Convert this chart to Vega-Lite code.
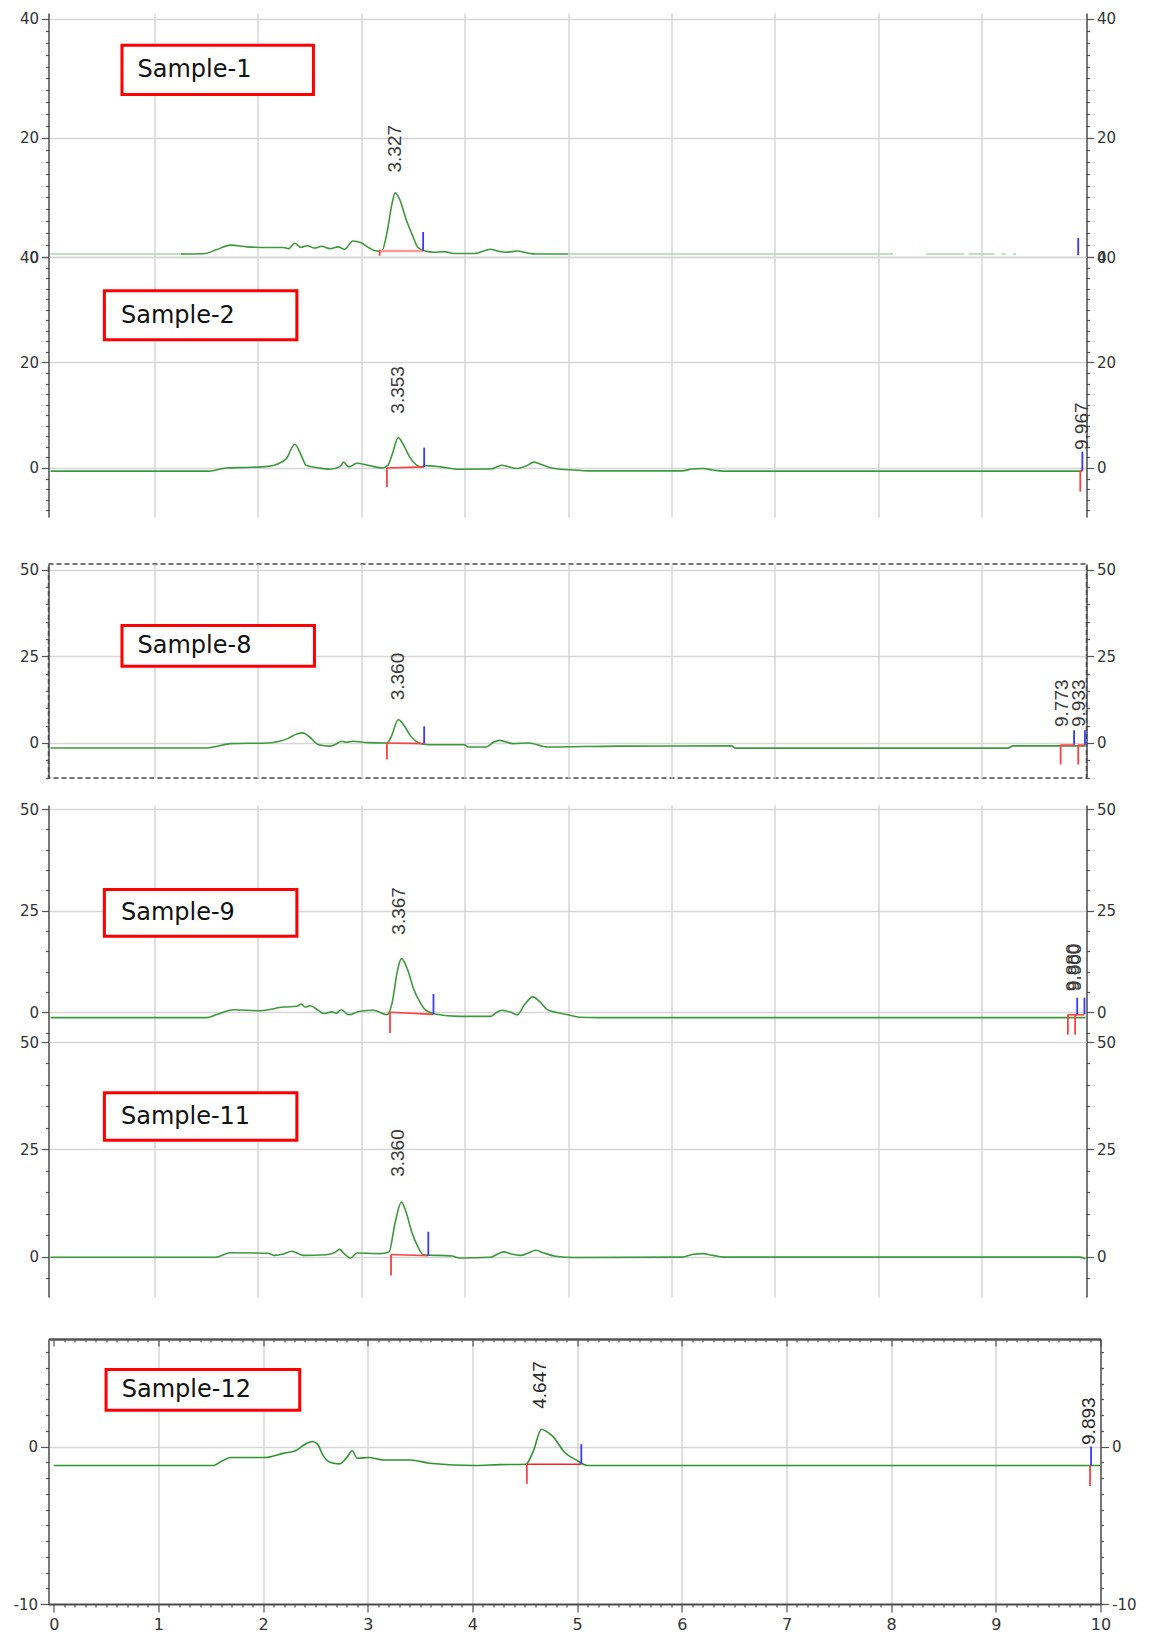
{
"$schema": "https://vega.github.io/schema/vega-lite/v6.json",
"background": "white",
"padding": {"left": 12.5, "top": 11, "right": 5, "bottom": 5},
"spacing": 0,
"bounds": "flush",
"config": {
  "view": {"stroke": null},
  "axis": {"gridColor": "#d6d6d6", "gridWidth": 1.5, "domainColor": "#4a4a4a", "domainWidth": 1.5, "tickColor": "#555555", "tickWidth": 1.2, "labelColor": "#333333", "labelFont": "DejaVu Sans", "labelFontSize": 15, "labelPadding": 3, "labelFlush": false}
},
"datasets": {
  "f1": [{"x":0,"y":0.5,"seg":"a"},{"x":1.3,"y":0.5,"seg":"a"},{"x":5.0,"y":0.5,"seg":"b"},{"x":8.14,"y":0.5,"seg":"b"},{"x":8.46,"y":0.5,"seg":"c"},{"x":8.83,"y":0.5,"seg":"c"},{"x":8.87,"y":0.5,"seg":"d"},{"x":9.12,"y":0.5,"seg":"d"},{"x":9.19,"y":0.5,"seg":"e"},{"x":9.23,"y":0.5,"seg":"e"},{"x":9.3,"y":0.5,"seg":"f"},{"x":9.33,"y":0.5,"seg":"f"}],
  "t1": [{"x":1.26,"y":0.5},{"x":1.48,"y":0.55},{"x":1.6,"y":1.2},{"x":1.74,"y":2.0},{"x":1.9,"y":1.7},{"x":2.1,"y":1.6},{"x":2.25,"y":1.6},{"x":2.3,"y":1.4},{"x":2.36,"y":2.3},{"x":2.42,"y":1.6},{"x":2.48,"y":1.9},{"x":2.55,"y":1.5},{"x":2.62,"y":1.8},{"x":2.7,"y":1.4},{"x":2.78,"y":1.7},{"x":2.84,"y":1.3},{"x":2.92,"y":2.7},{"x":3.0,"y":2.4},{"x":3.08,"y":1.5},{"x":3.15,"y":1.0},{"x":3.2,"y":1.0},{"x":3.25,"y":4.0},{"x":3.3,"y":9.0},{"x":3.33,"y":10.8},{"x":3.37,"y":9.8},{"x":3.44,"y":6.1},{"x":3.5,"y":3.5},{"x":3.55,"y":1.6},{"x":3.62,"y":1.0},{"x":3.7,"y":0.8},{"x":3.8,"y":0.9},{"x":3.9,"y":0.6},{"x":4.1,"y":0.6},{"x":4.2,"y":1.1},{"x":4.25,"y":1.3},{"x":4.32,"y":1.0},{"x":4.4,"y":0.8},{"x":4.51,"y":1.0},{"x":4.6,"y":0.7},{"x":4.69,"y":0.5},{"x":5.0,"y":0.5}],
  "k1": [{"x":3.18,"y":0.2,"y2":1.2,"kind":"s"},{"x":3.6,"y":1.0,"y2":4.2,"kind":"e"},{"x":9.93,"y":0.3,"y2":3.2,"kind":"e"}],
  "b1": [{"x":3.18,"x2":3.6,"y":1.0,"y2":1.0}],
  "l1": [{"x":3.327,"y":14.2,"text":"3.327"}],
  "s1": [{"x":0.69,"x2":2.54,"y":35.6,"y2":27.3,"tx":0.84,"ty":31.5,"name":"Sample-1"}],
  "t2": [{"x":0,"y":-0.6},{"x":1.53,"y":-0.6},{"x":1.7,"y":0.0},{"x":1.9,"y":0.1},{"x":2.1,"y":0.3},{"x":2.2,"y":0.8},{"x":2.28,"y":1.8},{"x":2.36,"y":4.5},{"x":2.42,"y":2.5},{"x":2.47,"y":0.5},{"x":2.59,"y":0.0},{"x":2.7,"y":-0.25},{"x":2.8,"y":0.3},{"x":2.83,"y":1.1},{"x":2.88,"y":0.2},{"x":2.96,"y":0.9},{"x":3.07,"y":0.5},{"x":3.21,"y":0.0},{"x":3.26,"y":0.5},{"x":3.3,"y":2.5},{"x":3.36,"y":5.75},{"x":3.42,"y":4.0},{"x":3.47,"y":2.1},{"x":3.58,"y":0.2},{"x":3.62,"y":0.45},{"x":3.77,"y":0.2},{"x":3.95,"y":-0.25},{"x":4.25,"y":-0.2},{"x":4.36,"y":0.5},{"x":4.51,"y":-0.1},{"x":4.6,"y":0.4},{"x":4.67,"y":1.1},{"x":4.75,"y":0.6},{"x":4.84,"y":0.0},{"x":5.06,"y":-0.4},{"x":5.2,"y":-0.55},{"x":6.1,"y":-0.55},{"x":6.2,"y":-0.2},{"x":6.3,"y":-0.1},{"x":6.4,"y":-0.4},{"x":6.5,"y":-0.6},{"x":9.97,"y":-0.6}],
  "k2": [{"x":3.25,"y":0,"y2":-3.6,"kind":"s"},{"x":3.61,"y":0.2,"y2":3.85,"kind":"e"},{"x":9.95,"y":-0.5,"y2":-4.5,"kind":"s"},{"x":9.97,"y":-0.5,"y2":3.1,"kind":"e"}],
  "b2": [{"x":3.25,"x2":3.61,"y":0,"y2":0.2},{"x":9.95,"x2":9.97,"y":-0.5,"y2":-0.5}],
  "l2": [{"x":3.353,"y":10.3,"text":"3.353"},{"x":9.967,"y":3.4,"text":"9.967"}],
  "s2": [{"x":0.52,"x2":2.38,"y":33.6,"y2":24.3,"tx":0.68,"ty":28.9,"name":"Sample-2"}],
  "t3": [{"x":0,"y":-1.45},{"x":1.51,"y":-1.45},{"x":1.6,"y":-1.0},{"x":1.74,"y":-0.2},{"x":2.1,"y":0.0},{"x":2.2,"y":0.4},{"x":2.29,"y":1.25},{"x":2.38,"y":2.6},{"x":2.44,"y":2.9},{"x":2.5,"y":1.8},{"x":2.59,"y":-0.5},{"x":2.7,"y":-0.9},{"x":2.76,"y":-0.3},{"x":2.81,"y":0.5},{"x":2.86,"y":0.2},{"x":2.92,"y":0.5},{"x":3.07,"y":0.1},{"x":3.25,"y":0.0},{"x":3.29,"y":1.7},{"x":3.36,"y":6.7},{"x":3.42,"y":4.9},{"x":3.47,"y":2.4},{"x":3.58,"y":-0.2},{"x":3.66,"y":-0.5},{"x":4.0,"y":-0.5},{"x":4.03,"y":-1.15},{"x":4.21,"y":-1.15},{"x":4.28,"y":0.2},{"x":4.34,"y":0.75},{"x":4.47,"y":-0.2},{"x":4.62,"y":0.0},{"x":4.8,"y":-1.15},{"x":5.5,"y":-0.9},{"x":6.58,"y":-0.85},{"x":6.62,"y":-1.5},{"x":9.25,"y":-1.5},{"x":9.3,"y":-0.85},{"x":10.0,"y":-0.85}],
  "k3": [{"x":3.25,"y":0,"y2":-4.7,"kind":"s"},{"x":3.61,"y":-0.2,"y2":4.8,"kind":"e"},{"x":9.76,"y":-0.5,"y2":-6.2,"kind":"s"},{"x":9.89,"y":-0.5,"y2":3.7,"kind":"e"},{"x":9.93,"y":-0.5,"y2":-6.2,"kind":"s"},{"x":9.995,"y":-0.5,"y2":3.7,"kind":"e"}],
  "b3": [{"x":3.25,"x2":3.61,"y":0,"y2":-0.2},{"x":9.76,"x2":9.89,"y":-0.6,"y2":-0.6},{"x":9.93,"x2":9.995,"y":-0.6,"y2":-0.6}],
  "l3": [{"x":3.36,"y":12.3,"text":"3.360"},{"x":9.773,"y":4.6,"text":"9.773"},{"x":9.933,"y":4.6,"text":"9.933"}],
  "s3": [{"x":0.69,"x2":2.55,"y":33.9,"y2":22.1,"tx":0.84,"ty":28.0,"name":"Sample-8"}],
  "t4": [{"x":0,"y":-1.3},{"x":1.51,"y":-1.3},{"x":1.6,"y":-0.6},{"x":1.77,"y":0.65},{"x":2.03,"y":0.4},{"x":2.25,"y":1.3},{"x":2.38,"y":1.5},{"x":2.42,"y":2.05},{"x":2.46,"y":1.3},{"x":2.51,"y":1.6},{"x":2.58,"y":0.6},{"x":2.64,"y":-0.3},{"x":2.72,"y":0.1},{"x":2.76,"y":-0.2},{"x":2.81,"y":0.65},{"x":2.88,"y":-0.6},{"x":2.99,"y":0.25},{"x":3.12,"y":0.5},{"x":3.25,"y":-0.6},{"x":3.3,"y":2.3},{"x":3.35,"y":10.0},{"x":3.39,"y":13.2},{"x":3.45,"y":10.5},{"x":3.51,"y":5.6},{"x":3.57,"y":2.5},{"x":3.62,"y":0.65},{"x":3.71,"y":-0.4},{"x":3.95,"y":-1.0},{"x":4.25,"y":-1.0},{"x":4.3,"y":-0.2},{"x":4.36,"y":0.5},{"x":4.45,"y":0.0},{"x":4.51,"y":-0.6},{"x":4.58,"y":1.9},{"x":4.66,"y":3.8},{"x":4.72,"y":2.8},{"x":4.8,"y":0.65},{"x":4.9,"y":-0.1},{"x":5.0,"y":-0.6},{"x":5.11,"y":-1.2},{"x":5.3,"y":-1.3},{"x":10.0,"y":-1.3}],
  "k4": [{"x":3.28,"y":0,"y2":-5.1,"kind":"s"},{"x":3.7,"y":-0.4,"y2":4.5,"kind":"e"},{"x":9.83,"y":-0.5,"y2":-5.5,"kind":"s"},{"x":9.92,"y":-0.5,"y2":3.6,"kind":"e"},{"x":9.9,"y":-0.5,"y2":-5.5,"kind":"s"},{"x":9.99,"y":-0.5,"y2":3.6,"kind":"e"}],
  "b4": [{"x":3.28,"x2":3.7,"y":0,"y2":-0.5},{"x":9.83,"x2":9.92,"y":-0.6,"y2":-0.6},{"x":9.9,"x2":9.99,"y":-0.6,"y2":-0.6}],
  "l4": [{"x":3.367,"y":19.1,"text":"3.367"},{"x":9.88,"y":5.2,"text":"9.880"},{"x":9.9,"y":5.2,"text":"9.900"}],
  "s4": [{"x":0.52,"x2":2.38,"y":30.2,"y2":18.7,"tx":0.68,"ty":24.4,"name":"Sample-9"}],
  "t5": [{"x":0,"y":-0.15},{"x":1.59,"y":-0.15},{"x":1.74,"y":0.9},{"x":2.1,"y":0.8},{"x":2.16,"y":0.3},{"x":2.25,"y":0.6},{"x":2.33,"y":1.25},{"x":2.44,"y":0.3},{"x":2.66,"y":0.45},{"x":2.75,"y":1.0},{"x":2.79,"y":1.7},{"x":2.85,"y":0.4},{"x":2.9,"y":-0.3},{"x":2.96,"y":0.85},{"x":3.18,"y":0.7},{"x":3.27,"y":1.1},{"x":3.33,"y":8.0},{"x":3.39,"y":12.7},{"x":3.44,"y":10.0},{"x":3.49,"y":5.75},{"x":3.55,"y":2.3},{"x":3.6,"y":0.45},{"x":3.88,"y":0.15},{"x":3.95,"y":-0.3},{"x":4.25,"y":-0.15},{"x":4.32,"y":0.6},{"x":4.38,"y":1.1},{"x":4.45,"y":0.6},{"x":4.55,"y":0.3},{"x":4.62,"y":0.9},{"x":4.69,"y":1.5},{"x":4.76,"y":0.9},{"x":4.88,"y":0.1},{"x":5.06,"y":-0.2},{"x":6.1,"y":-0.1},{"x":6.2,"y":0.5},{"x":6.3,"y":0.7},{"x":6.4,"y":0.3},{"x":6.5,"y":-0.1},{"x":9.95,"y":-0.1},{"x":10.0,"y":-0.5}],
  "k5": [{"x":3.29,"y":0.5,"y2":-4.4,"kind":"s"},{"x":3.65,"y":0.2,"y2":5.8,"kind":"e"}],
  "b5": [{"x":3.29,"x2":3.65,"y":0.5,"y2":0.2}],
  "l5": [{"x":3.36,"y":18.6,"text":"3.360"}],
  "s5": [{"x":0.52,"x2":2.38,"y":38.2,"y2":27.1,"tx":0.68,"ty":32.6,"name":"Sample-11"}],
  "t6": [{"x":0,"y":-1.2},{"x":1.53,"y":-1.2},{"x":1.6,"y":-0.95},{"x":1.69,"y":-0.7},{"x":2.02,"y":-0.7},{"x":2.2,"y":-0.42},{"x":2.31,"y":-0.27},{"x":2.39,"y":0.1},{"x":2.47,"y":0.32},{"x":2.52,"y":0.15},{"x":2.57,"y":-0.53},{"x":2.64,"y":-1.0},{"x":2.73,"y":-1.1},{"x":2.81,"y":-0.6},{"x":2.85,"y":-0.27},{"x":2.9,"y":-0.74},{"x":3.01,"y":-0.7},{"x":3.15,"y":-0.85},{"x":3.41,"y":-0.85},{"x":3.59,"y":-1.06},{"x":4.03,"y":-1.2},{"x":4.25,"y":-1.15},{"x":4.51,"y":-1.12},{"x":4.58,"y":-0.32},{"x":4.66,"y":1.1},{"x":4.72,"y":0.9},{"x":4.77,"y":0.63},{"x":4.88,"y":-0.36},{"x":4.99,"y":-0.85},{"x":5.1,"y":-1.2},{"x":10.0,"y":-1.2}],
  "k6": [{"x":4.52,"y":-1.12,"y2":-2.37,"kind":"s"},{"x":5.04,"y":-1.12,"y2":0.15,"kind":"e"},{"x":9.9,"y":-1.2,"y2":-2.5,"kind":"s"},{"x":9.91,"y":-1.2,"y2":0.0,"kind":"e"}],
  "b6": [{"x":4.52,"x2":5.04,"y":-1.12,"y2":-1.12}],
  "l6": [{"x":4.647,"y":2.4,"text":"4.647"},{"x":9.893,"y":0.1,"text":"9.893"}],
  "s6": [{"x":0.5,"x2":2.35,"y":4.9,"y2":2.3,"tx":0.65,"ty":3.6,"name":"Sample-12"}]
},
"vconcat": [
{
  "width": 1038, "height": 244,
  "resolve": {"axis": {"x": "independent", "y": "independent"}},
  "layer": [
    {"data": {"name": "f1"}, "mark": {"type": "line", "color": "#a9d8a9", "strokeWidth": 1.5},
     "encoding": {
       "x": {"field": "x", "type": "quantitative", "scale": {"domain": [-0.02, 10.01], "nice": false, "zero": false}, "axis": {"title": null, "values": [1,2,3,4,5,6,7,8,9], "grid": true, "labels": false, "ticks": false, "domain": false}},
       "y": {"field": "y", "type": "quantitative", "scale": {"domain": [0, 41], "nice": false, "zero": false}, "axis": {"orient": "left", "title": null, "grid": true, "values": [0,2,4,6,8,10,12,14,16,18,20,22,24,26,28,30,32,34,36,38,40], "labelExpr": "datum.value % 20 === 0 ? datum.label : ''", "tickSize": {"condition": {"test": "datum.value % 20 === 0", "value": 7}, "value": 3}, "gridOpacity": {"condition": {"test": "datum.value % 20 === 0", "value": 1}, "value": 0}}},
       "detail": {"field": "seg", "type": "nominal"}}},
    {"data": {"name": "t1"}, "mark": {"type": "line", "color": "#3c9a3c", "strokeWidth": 1.6, "interpolate": "monotone"},
     "encoding": {
       "x": {"field": "x", "type": "quantitative", "scale": {"domain": [-0.02, 10.01], "nice": false, "zero": false}, "axis": null},
       "y": {"field": "y", "type": "quantitative", "scale": {"domain": [0, 41], "nice": false, "zero": false}, "axis": null}}},
    {"data": {"name": "b1"}, "mark": {"type": "rule", "color": "#ff9a9a", "strokeWidth": 2.5},
     "encoding": {
       "x": {"field": "x", "type": "quantitative", "scale": {"domain": [-0.02, 10.01], "nice": false, "zero": false}, "axis": null},
       "x2": {"field": "x2"},
       "y": {"field": "y", "type": "quantitative", "scale": {"domain": [0, 41], "nice": false, "zero": false}, "axis": null},
       "y2": {"field": "y2"}}},
    {"data": {"name": "k1"}, "mark": {"type": "rule", "strokeWidth": 1.8},
     "encoding": {
       "x": {"field": "x", "type": "quantitative", "scale": {"domain": [-0.02, 10.01], "nice": false, "zero": false}, "axis": null},
       "y": {"field": "y", "type": "quantitative", "scale": {"domain": [0, 41], "nice": false, "zero": false}, "axis": {"orient": "right", "title": null, "grid": false, "values": [0,2,4,6,8,10,12,14,16,18,20,22,24,26,28,30,32,34,36,38,40], "labelExpr": "datum.value % 20 === 0 ? datum.label : ''", "tickSize": {"condition": {"test": "datum.value % 20 === 0", "value": 7}, "value": 3}}},
       "y2": {"field": "y2"},
       "color": {"field": "kind", "type": "nominal", "scale": {"domain": ["s", "e"], "range": ["#ff4040", "#3838ff"]}, "legend": null}}},
    {"data": {"name": "l1"}, "mark": {"type": "text", "angle": 270, "align": "left", "baseline": "middle", "font": "Liberation Sans", "fontSize": 19, "color": "#3a3a3a"},
     "encoding": {
       "x": {"field": "x", "type": "quantitative", "scale": {"domain": [-0.02, 10.01], "nice": false, "zero": false}, "axis": null},
       "y": {"field": "y", "type": "quantitative", "scale": {"domain": [0, 41], "nice": false, "zero": false}, "axis": null},
       "text": {"field": "text"}}},
    {"data": {"name": "s1"}, "mark": {"type": "rect", "fill": "white", "stroke": "#ff0000", "strokeWidth": 3},
     "encoding": {
       "x": {"field": "x", "type": "quantitative", "scale": {"domain": [-0.02, 10.01], "nice": false, "zero": false}, "axis": null},
       "x2": {"field": "x2"},
       "y": {"field": "y", "type": "quantitative", "scale": {"domain": [0, 41], "nice": false, "zero": false}, "axis": null},
       "y2": {"field": "y2"}}},
    {"data": {"name": "s1"}, "mark": {"type": "text", "align": "left", "baseline": "middle", "font": "DejaVu Sans", "fontSize": 24, "color": "#111111"},
     "encoding": {
       "x": {"field": "tx", "type": "quantitative", "scale": {"domain": [-0.02, 10.01], "nice": false, "zero": false}, "axis": null},
       "y": {"field": "ty", "type": "quantitative", "scale": {"domain": [0, 41], "nice": false, "zero": false}, "axis": null},
       "text": {"field": "name"}}}
  ]
},
{
  "width": 1038, "height": 260,
  "resolve": {"axis": {"x": "independent", "y": "independent"}},
  "layer": [
    {"data": {"name": "t2"}, "mark": {"type": "line", "color": "#3c9a3c", "strokeWidth": 1.6, "interpolate": "monotone"},
     "encoding": {
       "x": {"field": "x", "type": "quantitative", "scale": {"domain": [-0.02, 10.01], "nice": false, "zero": false}, "axis": {"title": null, "values": [1,2,3,4,5,6,7,8,9], "grid": true, "labels": false, "ticks": false, "domain": false}},
       "y": {"field": "y", "type": "quantitative", "scale": {"domain": [-9.3, 40], "nice": false, "zero": false}, "axis": {"orient": "left", "title": null, "grid": true, "values": [-8,-6,-4,-2,0,2,4,6,8,10,12,14,16,18,20,22,24,26,28,30,32,34,36,38,40], "labelExpr": "datum.value % 20 === 0 ? datum.label : ''", "tickSize": {"condition": {"test": "datum.value % 20 === 0", "value": 7}, "value": 3}, "gridOpacity": {"condition": {"test": "datum.value % 20 === 0", "value": 1}, "value": 0}}}}},
    {"data": {"name": "b2"}, "mark": {"type": "rule", "color": "#ff4040", "strokeWidth": 1.6},
     "encoding": {
       "x": {"field": "x", "type": "quantitative", "scale": {"domain": [-0.02, 10.01], "nice": false, "zero": false}, "axis": null},
       "x2": {"field": "x2"},
       "y": {"field": "y", "type": "quantitative", "scale": {"domain": [-9.3, 40], "nice": false, "zero": false}, "axis": null},
       "y2": {"field": "y2"}}},
    {"data": {"name": "k2"}, "mark": {"type": "rule", "strokeWidth": 1.8},
     "encoding": {
       "x": {"field": "x", "type": "quantitative", "scale": {"domain": [-0.02, 10.01], "nice": false, "zero": false}, "axis": null},
       "y": {"field": "y", "type": "quantitative", "scale": {"domain": [-9.3, 40], "nice": false, "zero": false}, "axis": {"orient": "right", "title": null, "grid": false, "values": [-8,-6,-4,-2,0,2,4,6,8,10,12,14,16,18,20,22,24,26,28,30,32,34,36,38,40], "labelExpr": "datum.value % 20 === 0 ? datum.label : ''", "tickSize": {"condition": {"test": "datum.value % 20 === 0", "value": 7}, "value": 3}}},
       "y2": {"field": "y2"},
       "color": {"field": "kind", "type": "nominal", "scale": {"domain": ["s", "e"], "range": ["#ff4040", "#3838ff"]}, "legend": null}}},
    {"data": {"name": "l2"}, "mark": {"type": "text", "angle": 270, "align": "left", "baseline": "middle", "font": "Liberation Sans", "fontSize": 19, "color": "#3a3a3a"},
     "encoding": {
       "x": {"field": "x", "type": "quantitative", "scale": {"domain": [-0.02, 10.01], "nice": false, "zero": false}, "axis": null},
       "y": {"field": "y", "type": "quantitative", "scale": {"domain": [-9.3, 40], "nice": false, "zero": false}, "axis": null},
       "text": {"field": "text"}}},
    {"data": {"name": "s2"}, "mark": {"type": "rect", "fill": "white", "stroke": "#ff0000", "strokeWidth": 3},
     "encoding": {
       "x": {"field": "x", "type": "quantitative", "scale": {"domain": [-0.02, 10.01], "nice": false, "zero": false}, "axis": null},
       "x2": {"field": "x2"},
       "y": {"field": "y", "type": "quantitative", "scale": {"domain": [-9.3, 40], "nice": false, "zero": false}, "axis": null},
       "y2": {"field": "y2"}}},
    {"data": {"name": "s2"}, "mark": {"type": "text", "align": "left", "baseline": "middle", "font": "DejaVu Sans", "fontSize": 24, "color": "#111111"},
     "encoding": {
       "x": {"field": "tx", "type": "quantitative", "scale": {"domain": [-0.02, 10.01], "nice": false, "zero": false}, "axis": null},
       "y": {"field": "ty", "type": "quantitative", "scale": {"domain": [-9.3, 40], "nice": false, "zero": false}, "axis": null},
       "text": {"field": "name"}}}
  ]
},
{"width": 1038, "height": 47, "data": {"values": []}, "mark": {"type": "point", "opacity": 0}},
{
  "width": 1038, "height": 214,
  "view": {"stroke": "#444444", "strokeDash": [5, 3], "strokeWidth": 1.5},
  "resolve": {"axis": {"x": "independent", "y": "independent"}},
  "layer": [
    {"data": {"name": "t3"}, "mark": {"type": "line", "color": "#3c9a3c", "strokeWidth": 1.6, "interpolate": "monotone"},
     "encoding": {
       "x": {"field": "x", "type": "quantitative", "scale": {"domain": [-0.02, 10.01], "nice": false, "zero": false}, "axis": {"title": null, "values": [1,2,3,4,5,6,7,8,9], "grid": true, "labels": false, "ticks": false, "domain": false}},
       "y": {"field": "y", "type": "quantitative", "scale": {"domain": [-10.1, 51.6], "nice": false, "zero": false}, "axis": {"orient": "left", "title": null, "grid": true, "values": [-10,-5,0,5,10,15,20,25,30,35,40,45,50], "labelExpr": "datum.value % 25 === 0 ? datum.label : ''", "tickSize": {"condition": {"test": "datum.value % 25 === 0", "value": 7}, "value": 3}, "gridOpacity": {"condition": {"test": "datum.value % 25 === 0", "value": 1}, "value": 0}}}}},
    {"data": {"name": "b3"}, "mark": {"type": "rule", "color": "#ff4040", "strokeWidth": 1.6},
     "encoding": {
       "x": {"field": "x", "type": "quantitative", "scale": {"domain": [-0.02, 10.01], "nice": false, "zero": false}, "axis": null},
       "x2": {"field": "x2"},
       "y": {"field": "y", "type": "quantitative", "scale": {"domain": [-10.1, 51.6], "nice": false, "zero": false}, "axis": null},
       "y2": {"field": "y2"}}},
    {"data": {"name": "k3"}, "mark": {"type": "rule", "strokeWidth": 1.8},
     "encoding": {
       "x": {"field": "x", "type": "quantitative", "scale": {"domain": [-0.02, 10.01], "nice": false, "zero": false}, "axis": null},
       "y": {"field": "y", "type": "quantitative", "scale": {"domain": [-10.1, 51.6], "nice": false, "zero": false}, "axis": {"orient": "right", "title": null, "grid": false, "values": [-10,-5,0,5,10,15,20,25,30,35,40,45,50], "labelExpr": "datum.value % 25 === 0 ? datum.label : ''", "tickSize": {"condition": {"test": "datum.value % 25 === 0", "value": 7}, "value": 3}}},
       "y2": {"field": "y2"},
       "color": {"field": "kind", "type": "nominal", "scale": {"domain": ["s", "e"], "range": ["#ff4040", "#3838ff"]}, "legend": null}}},
    {"data": {"name": "l3"}, "mark": {"type": "text", "angle": 270, "align": "left", "baseline": "middle", "font": "Liberation Sans", "fontSize": 19, "color": "#3a3a3a"},
     "encoding": {
       "x": {"field": "x", "type": "quantitative", "scale": {"domain": [-0.02, 10.01], "nice": false, "zero": false}, "axis": null},
       "y": {"field": "y", "type": "quantitative", "scale": {"domain": [-10.1, 51.6], "nice": false, "zero": false}, "axis": null},
       "text": {"field": "text"}}},
    {"data": {"name": "s3"}, "mark": {"type": "rect", "fill": "white", "stroke": "#ff0000", "strokeWidth": 3},
     "encoding": {
       "x": {"field": "x", "type": "quantitative", "scale": {"domain": [-0.02, 10.01], "nice": false, "zero": false}, "axis": null},
       "x2": {"field": "x2"},
       "y": {"field": "y", "type": "quantitative", "scale": {"domain": [-10.1, 51.6], "nice": false, "zero": false}, "axis": null},
       "y2": {"field": "y2"}}},
    {"data": {"name": "s3"}, "mark": {"type": "text", "align": "left", "baseline": "middle", "font": "DejaVu Sans", "fontSize": 24, "color": "#111111"},
     "encoding": {
       "x": {"field": "tx", "type": "quantitative", "scale": {"domain": [-0.02, 10.01], "nice": false, "zero": false}, "axis": null},
       "y": {"field": "ty", "type": "quantitative", "scale": {"domain": [-10.1, 51.6], "nice": false, "zero": false}, "axis": null},
       "text": {"field": "name"}}}
  ]
},
{"width": 1038, "height": 27, "data": {"values": []}, "mark": {"type": "point", "opacity": 0}},
{
  "width": 1038, "height": 237,
  "resolve": {"axis": {"x": "independent", "y": "independent"}},
  "layer": [
    {"data": {"name": "t4"}, "mark": {"type": "line", "color": "#3c9a3c", "strokeWidth": 1.6, "interpolate": "monotone"},
     "encoding": {
       "x": {"field": "x", "type": "quantitative", "scale": {"domain": [-0.02, 10.01], "nice": false, "zero": false}, "axis": {"title": null, "values": [1,2,3,4,5,6,7,8,9], "grid": true, "labels": false, "ticks": false, "domain": false}},
       "y": {"field": "y", "type": "quantitative", "scale": {"domain": [-7.3, 51], "nice": false, "zero": false}, "axis": {"orient": "left", "title": null, "grid": true, "values": [-5,0,5,10,15,20,25,30,35,40,45,50], "labelExpr": "datum.value % 25 === 0 ? datum.label : ''", "tickSize": {"condition": {"test": "datum.value % 25 === 0", "value": 7}, "value": 3}, "gridOpacity": {"condition": {"test": "datum.value % 25 === 0", "value": 1}, "value": 0}}}}},
    {"data": {"name": "b4"}, "mark": {"type": "rule", "color": "#ff4040", "strokeWidth": 1.6},
     "encoding": {
       "x": {"field": "x", "type": "quantitative", "scale": {"domain": [-0.02, 10.01], "nice": false, "zero": false}, "axis": null},
       "x2": {"field": "x2"},
       "y": {"field": "y", "type": "quantitative", "scale": {"domain": [-7.3, 51], "nice": false, "zero": false}, "axis": null},
       "y2": {"field": "y2"}}},
    {"data": {"name": "k4"}, "mark": {"type": "rule", "strokeWidth": 1.8},
     "encoding": {
       "x": {"field": "x", "type": "quantitative", "scale": {"domain": [-0.02, 10.01], "nice": false, "zero": false}, "axis": null},
       "y": {"field": "y", "type": "quantitative", "scale": {"domain": [-7.3, 51], "nice": false, "zero": false}, "axis": {"orient": "right", "title": null, "grid": false, "values": [-5,0,5,10,15,20,25,30,35,40,45,50], "labelExpr": "datum.value % 25 === 0 ? datum.label : ''", "tickSize": {"condition": {"test": "datum.value % 25 === 0", "value": 7}, "value": 3}}},
       "y2": {"field": "y2"},
       "color": {"field": "kind", "type": "nominal", "scale": {"domain": ["s", "e"], "range": ["#ff4040", "#3838ff"]}, "legend": null}}},
    {"data": {"name": "l4"}, "mark": {"type": "text", "angle": 270, "align": "left", "baseline": "middle", "font": "Liberation Sans", "fontSize": 19, "color": "#3a3a3a"},
     "encoding": {
       "x": {"field": "x", "type": "quantitative", "scale": {"domain": [-0.02, 10.01], "nice": false, "zero": false}, "axis": null},
       "y": {"field": "y", "type": "quantitative", "scale": {"domain": [-7.3, 51], "nice": false, "zero": false}, "axis": null},
       "text": {"field": "text"}}},
    {"data": {"name": "s4"}, "mark": {"type": "rect", "fill": "white", "stroke": "#ff0000", "strokeWidth": 3},
     "encoding": {
       "x": {"field": "x", "type": "quantitative", "scale": {"domain": [-0.02, 10.01], "nice": false, "zero": false}, "axis": null},
       "x2": {"field": "x2"},
       "y": {"field": "y", "type": "quantitative", "scale": {"domain": [-7.3, 51], "nice": false, "zero": false}, "axis": null},
       "y2": {"field": "y2"}}},
    {"data": {"name": "s4"}, "mark": {"type": "text", "align": "left", "baseline": "middle", "font": "DejaVu Sans", "fontSize": 24, "color": "#111111"},
     "encoding": {
       "x": {"field": "tx", "type": "quantitative", "scale": {"domain": [-0.02, 10.01], "nice": false, "zero": false}, "axis": null},
       "y": {"field": "ty", "type": "quantitative", "scale": {"domain": [-7.3, 51], "nice": false, "zero": false}, "axis": null},
       "text": {"field": "name"}}}
  ]
},
{
  "width": 1038, "height": 255,
  "resolve": {"axis": {"x": "independent", "y": "independent"}},
  "layer": [
    {"data": {"name": "t5"}, "mark": {"type": "line", "color": "#3c9a3c", "strokeWidth": 1.6, "interpolate": "monotone"},
     "encoding": {
       "x": {"field": "x", "type": "quantitative", "scale": {"domain": [-0.02, 10.01], "nice": false, "zero": false}, "axis": {"title": null, "values": [1,2,3,4,5,6,7,8,9], "grid": true, "labels": false, "ticks": false, "domain": false}},
       "y": {"field": "y", "type": "quantitative", "scale": {"domain": [-9.4, 50], "nice": false, "zero": false}, "axis": {"orient": "left", "title": null, "grid": true, "values": [-5,0,5,10,15,20,25,30,35,40,45,50], "labelExpr": "datum.value % 25 === 0 ? datum.label : ''", "tickSize": {"condition": {"test": "datum.value % 25 === 0", "value": 7}, "value": 3}, "gridOpacity": {"condition": {"test": "datum.value % 25 === 0", "value": 1}, "value": 0}}}}},
    {"data": {"name": "b5"}, "mark": {"type": "rule", "color": "#ff4040", "strokeWidth": 1.6},
     "encoding": {
       "x": {"field": "x", "type": "quantitative", "scale": {"domain": [-0.02, 10.01], "nice": false, "zero": false}, "axis": null},
       "x2": {"field": "x2"},
       "y": {"field": "y", "type": "quantitative", "scale": {"domain": [-9.4, 50], "nice": false, "zero": false}, "axis": null},
       "y2": {"field": "y2"}}},
    {"data": {"name": "k5"}, "mark": {"type": "rule", "strokeWidth": 1.8},
     "encoding": {
       "x": {"field": "x", "type": "quantitative", "scale": {"domain": [-0.02, 10.01], "nice": false, "zero": false}, "axis": null},
       "y": {"field": "y", "type": "quantitative", "scale": {"domain": [-9.4, 50], "nice": false, "zero": false}, "axis": {"orient": "right", "title": null, "grid": false, "values": [-5,0,5,10,15,20,25,30,35,40,45,50], "labelExpr": "datum.value % 25 === 0 ? datum.label : ''", "tickSize": {"condition": {"test": "datum.value % 25 === 0", "value": 7}, "value": 3}}},
       "y2": {"field": "y2"},
       "color": {"field": "kind", "type": "nominal", "scale": {"domain": ["s", "e"], "range": ["#ff4040", "#3838ff"]}, "legend": null}}},
    {"data": {"name": "l5"}, "mark": {"type": "text", "angle": 270, "align": "left", "baseline": "middle", "font": "Liberation Sans", "fontSize": 19, "color": "#3a3a3a"},
     "encoding": {
       "x": {"field": "x", "type": "quantitative", "scale": {"domain": [-0.02, 10.01], "nice": false, "zero": false}, "axis": null},
       "y": {"field": "y", "type": "quantitative", "scale": {"domain": [-9.4, 50], "nice": false, "zero": false}, "axis": null},
       "text": {"field": "text"}}},
    {"data": {"name": "s5"}, "mark": {"type": "rect", "fill": "white", "stroke": "#ff0000", "strokeWidth": 3},
     "encoding": {
       "x": {"field": "x", "type": "quantitative", "scale": {"domain": [-0.02, 10.01], "nice": false, "zero": false}, "axis": null},
       "x2": {"field": "x2"},
       "y": {"field": "y", "type": "quantitative", "scale": {"domain": [-9.4, 50], "nice": false, "zero": false}, "axis": null},
       "y2": {"field": "y2"}}},
    {"data": {"name": "s5"}, "mark": {"type": "text", "align": "left", "baseline": "middle", "font": "DejaVu Sans", "fontSize": 24, "color": "#111111"},
     "encoding": {
       "x": {"field": "tx", "type": "quantitative", "scale": {"domain": [-0.02, 10.01], "nice": false, "zero": false}, "axis": null},
       "y": {"field": "ty", "type": "quantitative", "scale": {"domain": [-9.4, 50], "nice": false, "zero": false}, "axis": null},
       "text": {"field": "name"}}}
  ]
},
{"width": 1038, "height": 42, "data": {"values": []}, "mark": {"type": "point", "opacity": 0}},
{
  "width": 1052, "height": 265,
  "resolve": {"axis": {"x": "independent", "y": "independent"}},
  "layer": [
    {"data": {"name": "t6"}, "mark": {"type": "line", "color": "#2f962f", "strokeWidth": 1.6, "interpolate": "monotone"},
     "encoding": {
       "x": {"field": "x", "type": "quantitative", "scale": {"domain": [-0.05, 10], "nice": false, "zero": false}, "axis": {"orient": "bottom", "title": null, "grid": true, "labelFlush": false, "values": [0,0.1,0.2,0.3,0.4,0.5,0.6,0.7,0.8,0.9,1,1.1,1.2,1.3,1.4,1.5,1.6,1.7,1.8,1.9,2,2.1,2.2,2.3,2.4,2.5,2.6,2.7,2.8,2.9,3,3.1,3.2,3.3,3.4,3.5,3.6,3.7,3.8,3.9,4,4.1,4.2,4.3,4.4,4.5,4.6,4.7,4.8,4.9,5,5.1,5.2,5.3,5.4,5.5,5.6,5.7,5.8,5.9,6,6.1,6.2,6.3,6.4,6.5,6.6,6.7,6.8,6.9,7,7.1,7.2,7.3,7.4,7.5,7.6,7.7,7.8,7.9,8,8.1,8.2,8.3,8.4,8.5,8.6,8.7,8.8,8.9,9,9.1,9.2,9.3,9.4,9.5,9.6,9.7,9.8,9.9,10], "labelExpr": "abs(datum.value - round(datum.value)) < 0.01 ? '' + round(datum.value) : ''", "labelFontSize": 16, "labelPadding": 4, "domainWidth": 2, "tickSize": {"condition": {"test": "abs(datum.value - round(datum.value)) < 0.01", "value": 8}, "value": 3}, "gridOpacity": {"condition": {"test": "abs(datum.value - round(datum.value)) < 0.01 && datum.value > 0.5 && datum.value < 9.5", "value": 1}, "value": 0}}},
       "y": {"field": "y", "type": "quantitative", "scale": {"domain": [-10, 6.83], "nice": false, "zero": false}, "axis": {"orient": "left", "title": null, "grid": true, "values": [-10,-9,-8,-7,-6,-5,-4,-3,-2,-1,0,1,2,3,4,5,6], "labelExpr": "datum.value === 0 ? '0' : (datum.value === -10 ? '-10' : '')", "tickSize": {"condition": {"test": "datum.value % 10 === 0", "value": 8}, "value": 3}, "gridOpacity": {"condition": {"test": "datum.value === 0", "value": 1}, "value": 0}}}}},
    {"data": {"name": "b6"}, "mark": {"type": "rule", "color": "#ff2020", "strokeWidth": 1.6},
     "encoding": {
       "x": {"field": "x", "type": "quantitative", "scale": {"domain": [-0.05, 10], "nice": false, "zero": false}, "axis": null},
       "x2": {"field": "x2"},
       "y": {"field": "y", "type": "quantitative", "scale": {"domain": [-10, 6.83], "nice": false, "zero": false}, "axis": null},
       "y2": {"field": "y2"}}},
    {"data": {"name": "k6"}, "mark": {"type": "rule", "strokeWidth": 1.8},
     "encoding": {
       "x": {"field": "x", "type": "quantitative", "scale": {"domain": [-0.05, 10], "nice": false, "zero": false}, "axis": {"orient": "top", "title": null, "grid": false, "labels": false, "domainWidth": 2.5, "domainColor": "#555555", "values": [0,0.1,0.2,0.3,0.4,0.5,0.6,0.7,0.8,0.9,1,1.1,1.2,1.3,1.4,1.5,1.6,1.7,1.8,1.9,2,2.1,2.2,2.3,2.4,2.5,2.6,2.7,2.8,2.9,3,3.1,3.2,3.3,3.4,3.5,3.6,3.7,3.8,3.9,4,4.1,4.2,4.3,4.4,4.5,4.6,4.7,4.8,4.9,5,5.1,5.2,5.3,5.4,5.5,5.6,5.7,5.8,5.9,6,6.1,6.2,6.3,6.4,6.5,6.6,6.7,6.8,6.9,7,7.1,7.2,7.3,7.4,7.5,7.6,7.7,7.8,7.9,8,8.1,8.2,8.3,8.4,8.5,8.6,8.7,8.8,8.9,9,9.1,9.2,9.3,9.4,9.5,9.6,9.7,9.8,9.9,10], "tickSize": {"condition": {"test": "abs(datum.value - round(datum.value)) < 0.01", "value": -7}, "value": -3}}},
       "y": {"field": "y", "type": "quantitative", "scale": {"domain": [-10, 6.83], "nice": false, "zero": false}, "axis": {"orient": "right", "title": null, "grid": false, "values": [-10,-9,-8,-7,-6,-5,-4,-3,-2,-1,0,1,2,3,4,5,6], "labelExpr": "datum.value === 0 ? '0' : (datum.value === -10 ? '-10' : '')", "tickSize": {"condition": {"test": "datum.value % 10 === 0", "value": 8}, "value": 3}}},
       "y2": {"field": "y2"},
       "color": {"field": "kind", "type": "nominal", "scale": {"domain": ["s", "e"], "range": ["#ff4040", "#3838ff"]}, "legend": null}}},
    {"data": {"name": "l6"}, "mark": {"type": "text", "angle": 270, "align": "left", "baseline": "middle", "font": "Liberation Sans", "fontSize": 19, "color": "#2a2a2a"},
     "encoding": {
       "x": {"field": "x", "type": "quantitative", "scale": {"domain": [-0.05, 10], "nice": false, "zero": false}, "axis": null},
       "y": {"field": "y", "type": "quantitative", "scale": {"domain": [-10, 6.83], "nice": false, "zero": false}, "axis": null},
       "text": {"field": "text"}}},
    {"data": {"name": "s6"}, "mark": {"type": "rect", "fill": "white", "stroke": "#ff0000", "strokeWidth": 3},
     "encoding": {
       "x": {"field": "x", "type": "quantitative", "scale": {"domain": [-0.05, 10], "nice": false, "zero": false}, "axis": null},
       "x2": {"field": "x2"},
       "y": {"field": "y", "type": "quantitative", "scale": {"domain": [-10, 6.83], "nice": false, "zero": false}, "axis": null},
       "y2": {"field": "y2"}}},
    {"data": {"name": "s6"}, "mark": {"type": "text", "align": "left", "baseline": "middle", "font": "DejaVu Sans", "fontSize": 24, "color": "#111111"},
     "encoding": {
       "x": {"field": "tx", "type": "quantitative", "scale": {"domain": [-0.05, 10], "nice": false, "zero": false}, "axis": null},
       "y": {"field": "ty", "type": "quantitative", "scale": {"domain": [-10, 6.83], "nice": false, "zero": false}, "axis": null},
       "text": {"field": "name"}}}
  ]
}
]
}
